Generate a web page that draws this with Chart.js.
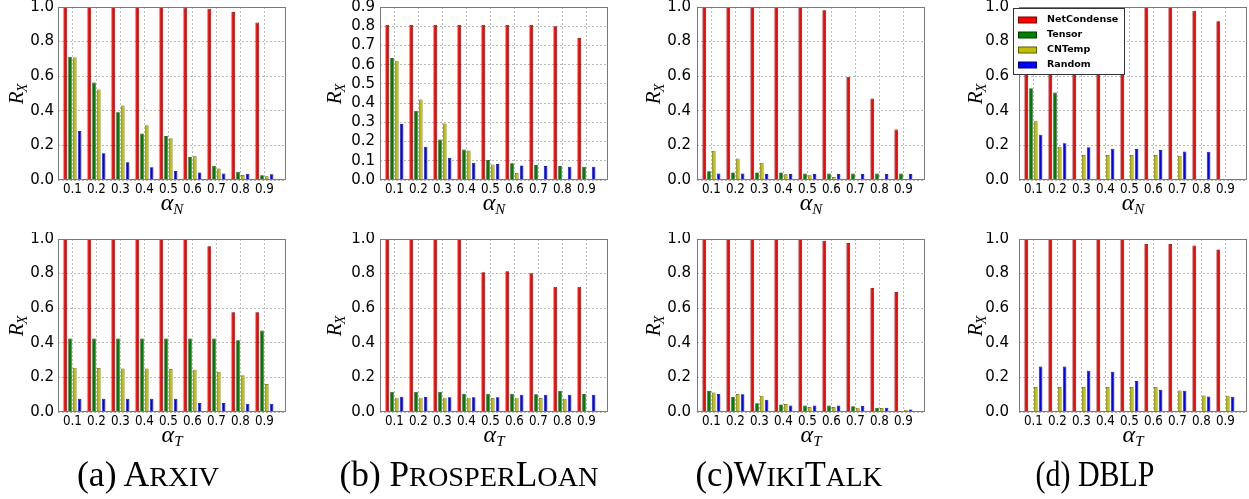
<!DOCTYPE html>
<html>
<head>
<meta charset="utf-8">
<script src="https://cdn.jsdelivr.net/npm/chart.js@4.4.1/dist/chart.umd.min.js"></script>
<style>
  html, body { margin: 0; padding: 0; background: #fff; }
  body { width: 1249px; height: 499px; position: relative; overflow: hidden; }
  canvas.panel { position: absolute; }
  .cap { position: absolute; left: 0; top: 0; white-space: nowrap; color: #000;
         font-family: "Liberation Serif", serif; font-size: 35px; line-height: 35px;
         transform-origin: 0 0; }
  .cap .sc { text-transform: uppercase; font-size: 0.8em; }
</style>
</head>
<body>
<script>
// ---- tick labels, methods, captions ----
const alphaTicks = ['0.1', '0.2', '0.3', '0.4', '0.5', '0.6', '0.7', '0.8', '0.9'];
const methods = ['NetCondense', 'Tensor', 'CNTemp', 'Random'];
const captionTags = ['(a) ', '(b) ', '(c)', '(d) '];
const captionNames = ['Arxiv', 'ProsperLoan', 'WikiTalk', 'DBLP'];

// ---- R_X while varying alpha_N ----
const arxivN_netCondense = [1.0, 1.0, 1.0, 1.0, 1.0, 0.995, 0.99, 0.971, 0.91];
const arxivN_tensor      = [0.712, 0.563, 0.392, 0.269, 0.254, 0.133, 0.083, 0.048, 0.027];
const arxivN_cnTemp      = [0.71, 0.523, 0.431, 0.317, 0.242, 0.137, 0.067, 0.029, 0.021];
const arxivN_random      = [0.283, 0.154, 0.102, 0.073, 0.052, 0.044, 0.038, 0.036, 0.033];

const prosperN_netCondense = [0.807, 0.807, 0.807, 0.807, 0.807, 0.807, 0.807, 0.80, 0.739];
const prosperN_tensor      = [0.635, 0.36, 0.211, 0.159, 0.104, 0.087, 0.078, 0.073, 0.069];
const prosperN_cnTemp      = [0.621, 0.419, 0.294, 0.154, 0.08, 0.036, null, null, null];
const prosperN_random      = [0.291, 0.173, 0.116, 0.09, 0.083, 0.076, 0.073, 0.069, 0.069];

const wikiN_netCondense = [1.0, 1.0, 1.0, 1.0, 1.0, 0.981, 0.596, 0.471, 0.292];
const wikiN_tensor      = [0.05, 0.044, 0.044, 0.044, 0.037, 0.037, 0.037, 0.037, 0.037];
const wikiN_cnTemp      = [0.169, 0.125, 0.10, 0.033, 0.027, 0.017, null, null, null];
const wikiN_random      = [0.038, 0.037, 0.035, 0.035, 0.035, 0.035, 0.035, 0.035, 0.035];

const dblpN_netCondense = [1.0, 1.0, 1.0, 1.0, 1.0, 1.0, 1.0, 0.979, 0.917];
const dblpN_tensor      = [0.531, 0.506, null, null, null, null, null, null, null];
const dblpN_cnTemp      = [0.34, 0.192, 0.144, 0.144, 0.144, 0.144, 0.14, null, null];
const dblpN_random      = [0.262, 0.212, 0.19, 0.181, 0.179, 0.173, 0.165, 0.163, null];

// ---- R_X while varying alpha_T ----
const arxivT_netCondense = [1.0, 1.0, 1.0, 1.0, 1.0, 1.0, 0.958, 0.577, 0.577];
const arxivT_tensor      = [0.425, 0.425, 0.425, 0.425, 0.425, 0.425, 0.425, 0.415, 0.471];
const arxivT_cnTemp      = [0.256, 0.254, 0.252, 0.252, 0.248, 0.244, 0.233, 0.213, 0.162];
const arxivT_random      = [0.077, 0.077, 0.077, 0.077, 0.077, 0.052, 0.052, 0.048, 0.048];

const prosperT_netCondense = [1.0, 1.0, 1.0, 1.0, 0.808, 0.813, 0.802, 0.723, 0.723];
const prosperT_tensor      = [0.117, 0.117, 0.117, 0.106, 0.106, 0.106, 0.102, 0.123, 0.104];
const prosperT_cnTemp      = [0.083, 0.083, 0.083, 0.083, 0.081, 0.083, 0.081, 0.077, null];
const prosperT_random      = [0.088, 0.087, 0.085, 0.085, 0.085, 0.1, 0.1, 0.1, 0.1];

const wikiT_netCondense = [1.0, 1.0, 1.0, 1.0, 1.0, 0.99, 0.977, 0.717, 0.694];
const wikiT_tensor      = [0.121, 0.087, 0.05, 0.044, 0.038, 0.037, 0.033, 0.025, 0.003];
const wikiT_cnTemp      = [0.112, 0.104, 0.094, 0.046, 0.029, 0.029, 0.025, 0.023, 0.013];
const wikiT_random      = [0.104, 0.102, 0.071, 0.037, 0.037, 0.037, 0.035, 0.025, 0.015];

const dblpT_netCondense = [1.0, 1.0, 1.0, 1.0, 1.0, 0.971, 0.971, 0.962, 0.94];
const dblpT_tensor      = [null, null, null, null, null, null, null, null, null];
const dblpT_cnTemp      = [0.144, 0.144, 0.144, 0.144, 0.144, 0.144, 0.125, 0.096, 0.094];
const dblpT_random      = [0.263, 0.263, 0.238, 0.233, 0.179, 0.129, 0.123, 0.09, 0.088];

// ---- styling and layout ----
const methodFill = ['#ff0000', '#008000', '#bfbf00', '#0000ff'];
const methodEdge = ['#7a0000', '#003a00', '#5c5c00', '#00007a'];
const columnLefts = [58, 380, 697, 1019];
const rowTops = [7, 239];
const plotW = 228, plotH = 173;
const axisLeftW = 60, axisBottomH = 52, padTop = 7, padRight = 4;
const yLabelPad = [4, 5, 6, 10];
const yTitleOffset = [42, 46, 44, 44];
const xTitleGap = [30, 30];
const captionCenters = [148, 469, 789, 1095];
const captionWidths = [142, 259, 187, 119];
const captionBaseline = 486;

const panels = [
  { row: 0, col: 0, sub: 'N', yMax: 1.0, yStep: 0.2, series: [arxivN_netCondense, arxivN_tensor, arxivN_cnTemp, arxivN_random] },
  { row: 0, col: 1, sub: 'N', yMax: 0.9, yStep: 0.1, series: [prosperN_netCondense, prosperN_tensor, prosperN_cnTemp, prosperN_random] },
  { row: 0, col: 2, sub: 'N', yMax: 1.0, yStep: 0.2, series: [wikiN_netCondense, wikiN_tensor, wikiN_cnTemp, wikiN_random] },
  { row: 0, col: 3, sub: 'N', yMax: 1.0, yStep: 0.2, series: [dblpN_netCondense, dblpN_tensor, dblpN_cnTemp, dblpN_random], legend: true },
  { row: 1, col: 0, sub: 'T', yMax: 1.0, yStep: 0.2, series: [arxivT_netCondense, arxivT_tensor, arxivT_cnTemp, arxivT_random] },
  { row: 1, col: 1, sub: 'T', yMax: 1.0, yStep: 0.2, series: [prosperT_netCondense, prosperT_tensor, prosperT_cnTemp, prosperT_random] },
  { row: 1, col: 2, sub: 'T', yMax: 1.0, yStep: 0.2, series: [wikiT_netCondense, wikiT_tensor, wikiT_cnTemp, wikiT_random] },
  { row: 1, col: 3, sub: 'T', yMax: 1.0, yStep: 0.2, series: [dblpT_netCondense, dblpT_tensor, dblpT_cnTemp, dblpT_random] }
];

const SERIF = '"Liberation Serif", "DejaVu Serif", serif';
const SANS = '"DejaVu Sans", sans-serif';

// Frame, condensed x tick labels, math axis titles and the legend box.
const panelDecor = {
  id: 'panelDecor',
  afterDatasetsDraw(chart, args, opts) {
    const ctx = chart.ctx;
    const a = chart.chartArea;
    const xs = chart.scales.x;
    ctx.save();

    // axes frame
    ctx.strokeStyle = '#7a7a7a';
    ctx.lineWidth = 1;
    ctx.strokeRect(a.left + 0.5, a.top + 0.5, a.right - a.left - 1, a.bottom - a.top - 1);

    // x tick labels
    ctx.fillStyle = '#000';
    ctx.font = '14px ' + SANS;
    ctx.textAlign = 'center';
    ctx.textBaseline = 'alphabetic';
    chart.data.labels.forEach((lab, i) => {
      ctx.save();
      ctx.translate(xs.getPixelForValue(i), a.bottom + 13);
      ctx.scale(0.85, 1);
      ctx.fillText(lab, 0, 0);
      ctx.restore();
    });

    // y title: R_X
    ctx.save();
    ctx.translate(a.left - opts.yTitleOffset, (a.top + a.bottom) / 2);
    ctx.rotate(-Math.PI / 2);
    ctx.textAlign = 'left';
    ctx.font = 'italic 21px ' + SERIF;
    const wR = ctx.measureText('R').width;
    ctx.font = 'italic 14px ' + SERIF;
    const wX = ctx.measureText('X').width;
    let sx = -(wR + wX) / 2;
    ctx.font = 'italic 21px ' + SERIF;
    ctx.fillText('R', sx, 7);
    ctx.font = 'italic 14px ' + SERIF;
    ctx.fillText('X', sx + wR - 1, 11);
    ctx.restore();

    // x title: alpha with subscript
    const cx = (a.left + a.right) / 2;
    const base = a.bottom + opts.xTitleGap;
    ctx.textAlign = 'left';
    ctx.font = 'italic 24px ' + SERIF;
    const wa = ctx.measureText('\u03b1').width;
    ctx.font = 'italic 15px ' + SERIF;
    const ws = ctx.measureText(opts.sub).width;
    sx = cx - (wa + ws) / 2;
    ctx.font = 'italic 24px ' + SERIF;
    ctx.fillText('\u03b1', sx, base);
    ctx.font = 'italic 15px ' + SERIF;
    ctx.fillText(opts.sub, sx + wa, base + 4);

    // legend
    if (opts.legend) {
      const lx = a.left - 6, ly = a.top + 1, lw = 112, lh = 67;
      ctx.fillStyle = '#fff';
      ctx.fillRect(lx, ly, lw, lh);
      ctx.strokeStyle = '#333';
      ctx.strokeRect(lx + 0.5, ly + 0.5, lw - 1, lh - 1);
      ctx.font = 'bold 9.5px ' + SANS;
      ctx.textBaseline = 'middle';
      chart.data.datasets.forEach((ds, k) => {
        const ry = a.top + 13 + k * 15;
        ctx.fillStyle = ds.borderColor;
        ctx.fillRect(a.left - 1, ry - 3.5, 19, 7);
        ctx.fillStyle = ds.backgroundColor;
        ctx.fillRect(a.left, ry - 2.5, 17, 5);
        ctx.fillStyle = '#000';
        ctx.fillText(ds.label, a.left + 28, ry);
      });
    }
    ctx.restore();
  }
};

panels.forEach((p) => {
  const cv = document.createElement('canvas');
  cv.className = 'panel';
  cv.width = axisLeftW + plotW + padRight;
  cv.height = padTop + plotH + axisBottomH;
  cv.style.left = (columnLefts[p.col] - axisLeftW) + 'px';
  cv.style.top = (rowTops[p.row] - padTop) + 'px';
  document.body.appendChild(cv);

  new Chart(cv, {
    type: 'bar',
    data: {
      labels: alphaTicks,
      datasets: p.series.map((vals, k) => ({
        label: methods[k],
        data: vals.map((v, i) => ({ x: i, y: v })),
        backgroundColor: methodFill[k],
        borderColor: methodEdge[k],
        borderWidth: 0.7,
        borderSkipped: 'start',
        categoryPercentage: 0.8,
        barPercentage: 0.75
      }))
    },
    options: {
      responsive: false,
      devicePixelRatio: 1,
      animation: false,
      layout: { padding: { left: 0, top: padTop, right: padRight, bottom: 0 } },
      plugins: {
        legend: { display: false },
        tooltip: { enabled: false },
        panelDecor: { sub: p.sub, legend: !!p.legend, yTitleOffset: yTitleOffset[p.col], xTitleGap: xTitleGap[p.row] }
      },
      scales: {
        x: {
          type: 'linear',
          min: -0.6,
          max: 8.9,
          offset: false,
          afterBuildTicks(s) { s.ticks = alphaTicks.map((_, i) => ({ value: i })); },
          afterFit(s) { s.height = axisBottomH; s.paddingLeft = 0; s.paddingRight = 0; },
          ticks: { display: false },
          grid: { offset: false, color: 'rgba(0,0,0,0.28)', lineWidth: 1, drawTicks: false },
          border: { display: false, dash: [2, 2] }
        },
        y: {
          min: 0,
          max: p.yMax,
          afterFit(s) { s.width = axisLeftW; s.paddingTop = 0; s.paddingBottom = 0; },
          ticks: {
            stepSize: p.yStep,
            autoSkip: false,
            padding: yLabelPad[p.col],
            color: '#000',
            font: { family: SANS, size: 15 },
            callback: (v) => Number(v).toFixed(1)
          },
          grid: { color: 'rgba(0,0,0,0.28)', lineWidth: 1, drawTicks: false },
          border: { display: false, dash: [2, 2] }
        }
      }
    },
    plugins: [panelDecor]
  });
});

// Sub-figure captions, dataset names in small capitals.
captionNames.forEach((name, i) => {
  const el = document.createElement('div');
  el.className = 'cap';
  el.appendChild(document.createTextNode(captionTags[i]));
  name.split(/([a-z]+)/).forEach((part) => {
    if (!part) return;
    if (/^[a-z]+$/.test(part)) {
      const s = document.createElement('span');
      s.className = 'sc';
      s.textContent = part;
      el.appendChild(s);
    } else {
      el.appendChild(document.createTextNode(part));
    }
  });
  document.body.appendChild(el);
  const w = el.getBoundingClientRect().width;
  const top = captionBaseline - 35 * 0.8375;
  el.style.transform = 'translate(' + (captionCenters[i] - captionWidths[i] / 2) + 'px,' + top + 'px) scaleX(' + (captionWidths[i] / w) + ')';
});
</script>
</body>
</html>
